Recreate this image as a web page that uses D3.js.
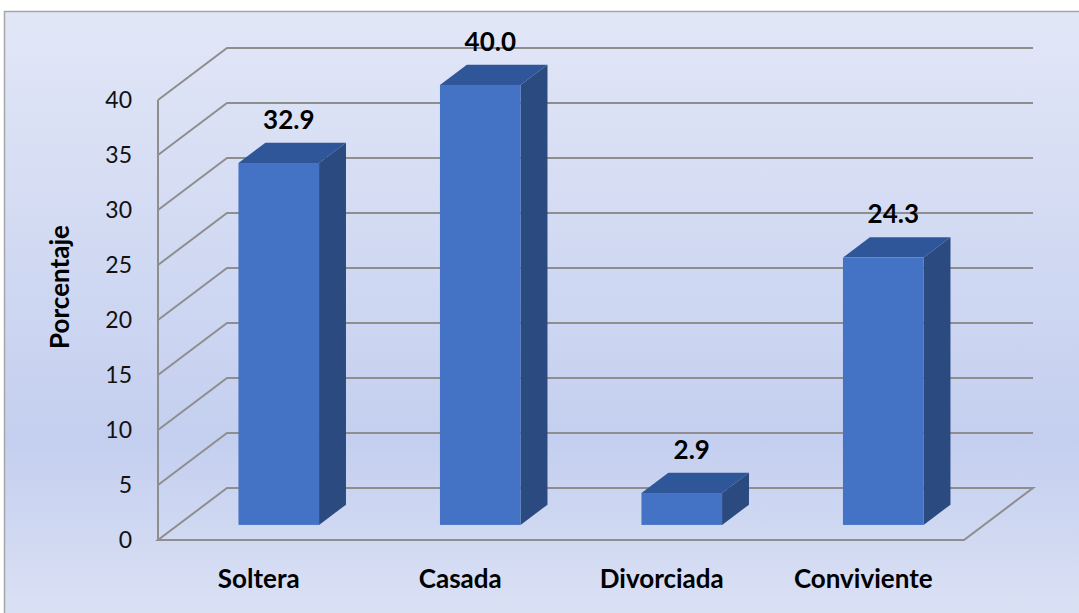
<!DOCTYPE html>
<html><head><meta charset="utf-8">
<script src="https://cdn.jsdelivr.net/npm/d3@7"></script>
<style>html,body{margin:0;padding:0;background:#fff;overflow:hidden}</style>
</head><body>
<svg id="chart" width="1079" height="613"></svg>
<script>
const categories = ["Soltera", "Casada", "Divorciada", "Conviviente"];
const values = [32.9, 40.0, 2.9, 24.3];
const yTicks = [0, 5, 10, 15, 20, 25, 30, 35, 40];
const yTitle = "Porcentaje";

const svg = d3.select("#chart");
const W = 1079, H = 613;
const font = "Lato, 'Open Sans', sans-serif";

const defs = svg.append("defs");
const g = defs.append("linearGradient").attr("id","bg").attr("x1",0).attr("y1",0).attr("x2",0).attr("y2",1);
g.append("stop").attr("offset","0%").attr("stop-color","#e2e7f7");
g.append("stop").attr("offset","70%").attr("stop-color","#c4cfef");
g.append("stop").attr("offset","100%").attr("stop-color","#dce2f5");

svg.append("rect").attr("x",4.5).attr("y",11.5).attr("width",W).attr("height",H)
  .attr("fill","url(#bg)").attr("stroke","#a6a6a6").attr("stroke-width",1.5);

// geometry
const x0 = 158, x1 = 964;           // front floor edge
const depth = [69, -52];             // depth vector
const y = d3.scaleLinear().domain([0, 40]).range([540, 100]);
const x = d3.scaleBand().domain(categories).range([x0, x1]).paddingInner(0).paddingOuter(0);
const barFrac = 0.4;
const dFront = 0.29, dBack = 0.68;

const grid = "#8e8e8e";
yTicks.forEach(t => {
  const yf = y(t);
  const pts = [[x0, yf], [x0 + depth[0], yf + depth[1]], [x1 + depth[0], yf + depth[1]]];
  if (t !== 0) {
    svg.append("polyline").attr("points", pts.map(p => p.join(",")).join(" "))
      .attr("fill","none").attr("stroke",grid).attr("stroke-width",2);
  }
});
const fy = y(0);
svg.append("polygon")
  .attr("points", [[x0,fy],[x1,fy],[x1+depth[0],fy+depth[1]],[x0+depth[0],fy+depth[1]]].map(p=>p.join(",")).join(" "))
  .attr("fill","none").attr("stroke",grid).attr("stroke-width",2);
svg.append("line").attr("x1",x0).attr("x2",x0).attr("y1",y(0)).attr("y2",y(40))
  .attr("stroke",grid).attr("stroke-width",2);

// tick labels
svg.append("g").selectAll("text").data(yTicks).join("text")
  .attr("x",132).attr("y",d=>y(d)).attr("dy","0.36em").attr("text-anchor","end")
  .attr("font-family",font).attr("font-size",23).attr("fill","#111").text(d=>d);

// bars
const bw = x.bandwidth() * barFrac;
const bars = svg.append("g");
categories.forEach((c, i) => {
  const v = values[i];
  const cx = x(c) + x.bandwidth()/2;
  const fx = cx - bw/2 + depth[0]*dFront;
  const fyb = y(0) + depth[1]*dFront;
  const fyt = y(v) + depth[1]*dFront;
  const ddx = depth[0]*(dBack-dFront), ddy = depth[1]*(dBack-dFront);
  bars.append("polygon").attr("points",[[fx+bw,fyt],[fx+bw+ddx,fyt+ddy],[fx+bw+ddx,fyb+ddy],[fx+bw,fyb]].map(p=>p.join(",")).join(" "))
    .attr("fill","#2a4a80");
  bars.append("polygon").attr("points",[[fx,fyt],[fx+ddx,fyt+ddy],[fx+bw+ddx,fyt+ddy],[fx+bw,fyt]].map(p=>p.join(",")).join(" "))
    .attr("fill","#30569a");
  bars.append("rect").attr("x",fx).attr("y",fyt).attr("width",bw).attr("height",fyb-fyt)
    .attr("fill","#4472c4");
  svg.append("text").attr("x",fx + bw/2 + 10).attr("y",fyt + ddy - 14)
    .attr("text-anchor","middle").attr("font-family",font).attr("font-weight","bold")
    .attr("font-size",26).attr("fill","#000").text(v.toFixed(1));
});

// category labels
svg.append("g").selectAll("text").data(categories).join("text")
  .attr("x",d=>x(d)+x.bandwidth()/2).attr("y",588).attr("text-anchor","middle")
  .attr("font-family",font).attr("font-weight","bold").attr("font-size",26).attr("fill","#000").text(d=>d);

// y title
svg.append("text").attr("transform","translate(69,287) rotate(-90)").attr("text-anchor","middle")
  .attr("font-family",font).attr("font-weight","bold").attr("font-size",26).attr("fill","#000").text(yTitle);
</script>
</body></html>
